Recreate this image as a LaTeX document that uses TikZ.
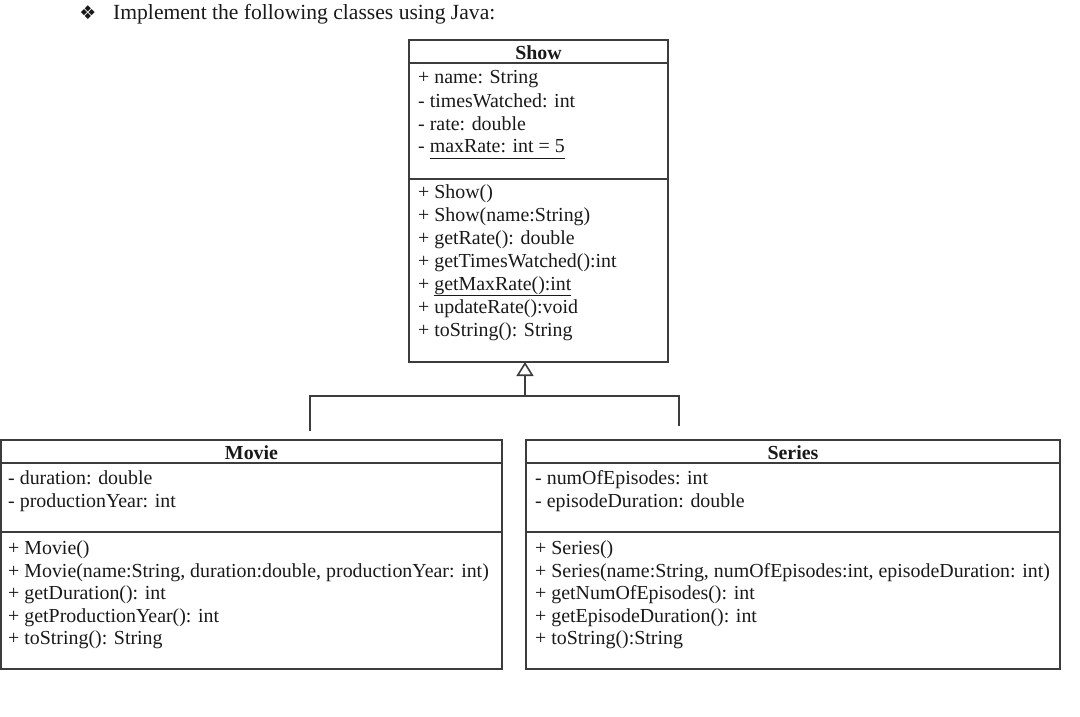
\documentclass[tikz,border=0pt]{standalone}
\usepackage{fontspec}
\setmainfont{Liberation Serif}
\newfontfamily\dejavu{DejaVu Sans}
\usetikzlibrary{arrows.meta}
\definecolor{linec}{RGB}{60,60,60}
\definecolor{textc}{RGB}{25,25,25}
\begin{document}
\begin{tikzpicture}[x=1pt,y=-1pt,
  box/.style={draw=linec, line width=1.4pt, anchor=north west, inner sep=0pt, outer sep=0pt},
  sep/.style={draw=linec, line width=1.4pt},
  conn/.style={draw=linec, line width=1.6pt},
  txt/.style={anchor=base west, inner sep=0pt, text=textc, font=\fontsize{19.9}{23}\selectfont},
  hdr/.style={anchor=base, inner sep=0pt, text=textc, font=\bfseries\fontsize{19.9}{23}\selectfont},
  ]
\useasboundingbox (0,0) rectangle (1080,717);

% title
\node[inner sep=0pt, text=textc, font=\dejavu\fontsize{19}{19}\selectfont] (bullet) at (88,13) {❖};
\node[anchor=base west, inner sep=0pt, text=textc, font=\fontsize{21.6}{24}\selectfont] (title) at (113,19.5) {Implement the following classes using Java:};

% Show class
\node[box, minimum width=259pt, minimum height=322pt] (show) at (409,40) {};
\draw[sep] (409,63) -- (668,63);
\draw[sep] (409,179) -- (668,179);
\node[hdr] (showh) at (538.5,59.5) {Show};
\node[txt] (sa1) at (418,84) {+ name: String};
\node[txt] (sa2) at (418,107) {- timesWatched: int};
\node[txt] (sa3) at (418,130) {- rate: double};
\node[txt] (sa4) at (418,153) {- \underline{maxRate: int = 5\vphantom{g()}}};
\node[txt] (sm1) at (418,198) {+ Show()};
\node[txt] (sm2) at (418,221) {+ Show(name:String)};
\node[txt] (sm3) at (418,244) {+ getRate(): double};
\node[txt] (sm4) at (418,267) {+ getTimesWatched():int};
\node[txt] (sm5) at (418,290) {+ \underline{getMaxRate():int}};
\node[txt] (sm6) at (418,313) {+ updateRate():void};
\node[txt] (sm7) at (418,336) {+ toString(): String};

% Movie class
\node[box, minimum width=501pt, minimum height=229pt] (movie) at (1,440) {};
\draw[sep] (1,463) -- (502,463);
\draw[sep] (1,532) -- (502,532);
\node[hdr] (movieh) at (251.5,459.5) {Movie};
\node[txt] (ma1) at (8,484) {- duration: double};
\node[txt] (ma2) at (8,507) {- productionYear: int};
\node[txt] (mm1) at (8,554) {+ Movie()};
\node[txt] (mm2) at (8,577) {+ Movie(name:String, duration:double, productionYear: int)};
\node[txt] (mm3) at (8,599) {+ getDuration(): int};
\node[txt] (mm4) at (8,622) {+ getProductionYear(): int};
\node[txt] (mm5) at (8,644) {+ toString(): String};

% Series class
\node[box, minimum width=534pt, minimum height=229pt] (series) at (526,440) {};
\draw[sep] (526,463) -- (1060,463);
\draw[sep] (526,532) -- (1060,532);
\node[hdr] (seriesh) at (793,459.5) {Series};
\node[txt] (ea1) at (535,484) {- numOfEpisodes: int};
\node[txt] (ea2) at (535,507) {- episodeDuration: double};
\node[txt] (em1) at (535,554) {+ Series()};
\node[txt] (em2) at (535,577) {+ Series(name:String, numOfEpisodes:int, episodeDuration: int)};
\node[txt] (em3) at (535,599) {+ getNumOfEpisodes(): int};
\node[txt] (em4) at (535,622) {+ getEpisodeDuration(): int};
\node[txt] (em5) at (535,644) {+ toString():String};

% inheritance connector
\coordinate (tip) at (525,362);
\coordinate (junc) at (525,396);
\coordinate (jl) at (310,396);
\coordinate (jr) at (679,396);
\coordinate (lend) at (310,431);
\coordinate (rend) at (679,426);
\draw[conn] (lend) -- (jl) -- (jr) -- (rend);
\draw[conn, -{Triangle[open, length=14pt, width=17pt, line width=1.6pt]}] (junc) -- (tip);
\end{tikzpicture}
\end{document}
